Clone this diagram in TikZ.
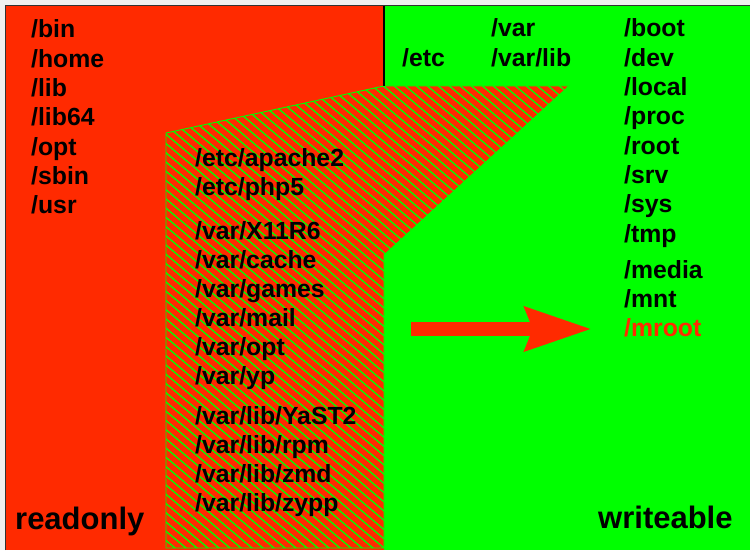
\documentclass[tikz,border=0pt]{standalone}
\usepackage{fontspec}
\setmainfont{Liberation Sans}
\usetikzlibrary{positioning}
\usetikzlibrary{scopes}
\usetikzlibrary{arrows.meta}

\definecolor{rored}{RGB}{255,42,0}
\definecolor{rwgreen}{RGB}{0,255,0}
\definecolor{pagegray}{RGB}{240,240,240}

\begin{document}
\begin{tikzpicture}[
    x=1pt, y=1pt,
    dname/.style={inner sep=0, anchor=base west, font=\bfseries\fontsize{24.8}{24.8}\selectfont},
    sidelabel/.style={inner sep=0, anchor=base west, font=\bfseries\fontsize{31}{31}\selectfont},
    stripe/.style={draw=rwgreen, line width=1.3pt},
    bigarrow/.style={-{Stealth[length=66pt, width=42pt, inset=7pt]}, line width=14.5pt, draw=rored}
]
\useasboundingbox (0,0) rectangle (750,550);

% Background
\fill[pagegray] (0,0) rectangle (750,550);
\fill[rored] (5.5,0) rectangle (384,544.5);
\fill[rwgreen] (384,0) rectangle (750,544.5);

% Hatched area
\begin{scope}
\clip (166,2) -- (166,417) -- (384,464) -- (569,464) -- (384,295) -- (384,2) -- cycle;
\fill[rored] (150,0) rectangle (600,480);
\foreach \sx in {-600,-589,...,620}
    \draw[stripe] (\sx,560) -- ++(-40:1100);
\end{scope}
\draw[rwgreen, line width=0.9pt] (166,2) -- (166,417) -- (384,464) -- (569,464) -- (384,295) -- (384,2) -- cycle;
\draw[line width=1.5pt] (384,544.5) -- (384,464);
\draw[line width=1.5pt, draw=black!80] (5.5,0) -- (5.5,544.5) -- (750,544.5);

% Readonly
{ [local bounding box=rolist]
\node[dname] (bin) at (31,512) {/bin};
\node[dname, below=29.3pt of bin.base west, anchor=base west] (home) {/home};
\node[dname, below=29.3pt of home.base west, anchor=base west] (lib) {/lib};
\node[dname, below=29.3pt of lib.base west, anchor=base west] (lib64) {/lib64};
\node[dname, below=29.3pt of lib64.base west, anchor=base west] (opt) {/opt};
\node[dname, below=29.3pt of opt.base west, anchor=base west] (sbin) {/sbin};
\node[dname, below=29.3pt of sbin.base west, anchor=base west] (usr) {/usr};
}
\node[sidelabel] (readonly) at (15,21) {readonly};

% Moved over (hatched)
{ [local bounding box=movedlist]
\node[dname] (etcapache) at (195,383) {/etc/apache2};
\node[dname, below=29pt of etcapache.base west, anchor=base west] (etcphp) {/etc/php5};
\node[dname, below=43pt of etcphp.base west, anchor=base west] (varx) {/var/X11R6};
\node[dname, below=29pt of varx.base west, anchor=base west] (varcache) {/var/cache};
\node[dname, below=29pt of varcache.base west, anchor=base west] (vargames) {/var/games};
\node[dname, below=29pt of vargames.base west, anchor=base west] (varmail) {/var/mail};
\node[dname, below=29pt of varmail.base west, anchor=base west] (varopt) {/var/opt};
\node[dname, below=29pt of varopt.base west, anchor=base west] (varyp) {/var/yp};
\node[dname, below=40pt of varyp.base west, anchor=base west] (varlibyast) {/var/lib/YaST2};
\node[dname, below=29pt of varlibyast.base west, anchor=base west] (varlibrpm) {/var/lib/rpm};
\node[dname, below=29pt of varlibrpm.base west, anchor=base west] (varlibzmd) {/var/lib/zmd};
\node[dname, below=29pt of varlibzmd.base west, anchor=base west] (varlibzypp) {/var/lib/zypp};
}

% Writeable
\node[dname] (etc) at (402,483) {/etc};
\node[dname] (var) at (491,513) {/var};
\node[dname, below=30pt of var.base west, anchor=base west] (varlib) {/var/lib};
{ [local bounding box=rwlist]
\node[dname] (boot) at (624,513) {/boot};
\node[dname, below=29.3pt of boot.base west, anchor=base west] (dev) {/dev};
\node[dname, below=29.3pt of dev.base west, anchor=base west] (local) {/local};
\node[dname, below=29.3pt of local.base west, anchor=base west] (proc) {/proc};
\node[dname, below=29.3pt of proc.base west, anchor=base west] (root) {/root};
\node[dname, below=29.3pt of root.base west, anchor=base west] (srv) {/srv};
\node[dname, below=29.3pt of srv.base west, anchor=base west] (sys) {/sys};
\node[dname, below=29.3pt of sys.base west, anchor=base west] (tmp) {/tmp};
\node[dname, below=36pt of tmp.base west, anchor=base west] (media) {/media};
\node[dname, below=29pt of media.base west, anchor=base west] (mnt) {/mnt};
\node[dname, below=29pt of mnt.base west, anchor=base west, text=rored] (mroot) {/mroot};
}
\node[sidelabel] (writeable) at (598,22) {writeable};

% new root
\coordinate (arrowstart) at (411,221);
\draw[bigarrow, shorten >=32pt] (arrowstart) -- (arrowstart -| mroot.west);

\end{tikzpicture}
\end{document}
